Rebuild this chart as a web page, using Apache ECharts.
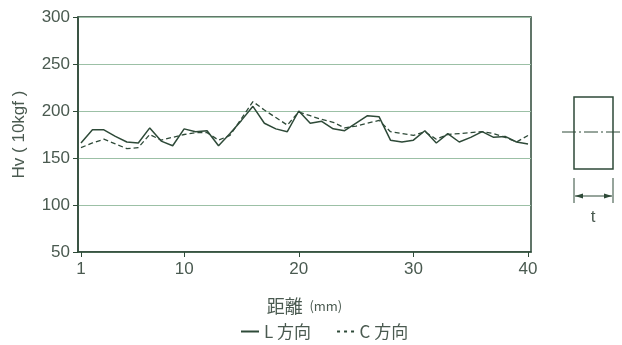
<!DOCTYPE html>
<html>
<head>
<meta charset="utf-8">
<script src="https://cdn.jsdelivr.net/npm/echarts@6/dist/echarts.min.js"></script>
<style>
	html, body { margin: 0; padding: 0; background: #fff; }
	#chart { width: 622px; height: 345px; }
</style>
</head>
<body>
<div id="chart"></div>
<script>
// 距離 (mm)
var distance = [1, 2, 3, 4, 5, 6, 7, 8, 9, 10, 11, 12, 13, 14, 15, 16, 17, 18, 19, 20,
	21, 22, 23, 24, 25, 26, 27, 28, 29, 30, 31, 32, 33, 34, 35, 36, 37, 38, 39, 40];
// L 方向
var hvL = [166, 180, 180, 173, 167, 166, 182, 168, 163, 181, 178, 179, 163, 176, 190, 205, 187, 181, 178, 200,
	187, 189, 181, 179, 187, 195, 194, 169, 167, 169, 179, 166, 176, 167, 172, 178, 172, 173, 167, 165];
// C 方向
var hvC = [161, 166, 170, 165, 160, 161, 175, 169, 172, 175, 177, 177, 169, 174, 192, 210, 201, 193, 185, 199,
	195, 191, 188, 182, 184, 187, 190, 178, 176, 174, 178, 170, 175, 176, 177, 178, 176, 172, 167, 174];
var xTicks = [1, 10, 20, 30, 40];
var seriesNames = ['L 方向', 'C 方向'];

var dark = '#2e4a38';
var grid = '#9cc0a6';
var text = '#4a5a50';

var chart = echarts.init(document.getElementById('chart'));

function pairs(ys) {
	var out = [];
	for (var i = 0; i < distance.length; i++) {
		out.push([distance[i], ys[i]]);
	}
	return out;
}

var option = {
	animation: false,
	textStyle: { fontFamily: 'Liberation Sans, Noto Sans CJK JP' },
	grid: {
		left: 78, right: 91, top: 17, bottom: 93,
		show: true, borderColor: dark, borderWidth: 1.5
	},
	legend: {
		left: 236, bottom: 0,
		itemWidth: 18, itemHeight: 2, itemGap: 26,
		data: [
			{ name: seriesNames[0], icon: 'path://M0,0L18,0L18,2L0,2Z' },
			{ name: seriesNames[1], icon: 'path://M0,0h3v2h-3zM7,0h3v2h-3zM14,0h3v2h-3z' }
		],
		textStyle: { color: text, fontSize: 17, fontFamily: 'Noto Sans CJK JP' }
	},
	xAxis: {
		type: 'value',
		min: 0.74, max: 40.26,
		name: '{a|距離}  {b|(mm)}',
		nameLocation: 'middle',
		nameGap: 45,
		nameTextStyle: {
			rich: {
				a: { fontSize: 18, color: text, fontFamily: 'Noto Sans CJK JP' },
				b: { fontSize: 13, color: text, fontFamily: 'Noto Sans CJK JP' }
			}
		},
		axisLine: { lineStyle: { color: dark, width: 1.5 } },
		axisTick: { show: true, length: 5, lineStyle: { color: dark }, customValues: xTicks },
		axisLabel: { color: text, fontSize: 17, margin: 9, customValues: xTicks },
		splitLine: { show: false }
	},
	yAxis: {
		type: 'value',
		min: 50, max: 300, interval: 50,
		name: 'Hv ( 10kgf )',
		nameLocation: 'middle',
		nameGap: 50,
		nameTextStyle: { color: text, fontSize: 17 },
		axisLine: { show: true, lineStyle: { color: dark, width: 1.5 } },
		axisTick: { show: true, length: 5, lineStyle: { color: dark } },
		axisLabel: { color: text, fontSize: 17, margin: 8 },
		splitLine: { show: true, lineStyle: { color: grid, width: 1 } }
	},
	series: [
		{
			name: seriesNames[0],
			type: 'line',
			symbol: 'none',
			data: pairs(hvL),
			lineStyle: { color: dark, width: 1.5, type: 'solid' },
			itemStyle: { color: dark }
		},
		{
			name: seriesNames[1],
			type: 'line',
			symbol: 'none',
			data: pairs(hvC),
			lineStyle: { color: dark, width: 1.3, type: [5, 3] },
			itemStyle: { color: dark }
		}
	],
	graphic: {
		elements: [
			// 断面図
			{ type: 'rect', shape: { x: 574, y: 97, width: 39, height: 72 },
				style: { fill: 'none', stroke: dark, lineWidth: 1.5 } },
			{ type: 'line', shape: { x1: 562, y1: 132, x2: 622, y2: 132 },
				style: { stroke: dark, lineWidth: 1, lineDash: [14, 3, 2, 3] } },
			{ type: 'line', shape: { x1: 574, y1: 178, x2: 574, y2: 203 },
				style: { stroke: dark, lineWidth: 1 } },
			{ type: 'line', shape: { x1: 613, y1: 178, x2: 613, y2: 203 },
				style: { stroke: dark, lineWidth: 1 } },
			{ type: 'line', shape: { x1: 575, y1: 196, x2: 612, y2: 196 },
				style: { stroke: dark, lineWidth: 1 } },
			{ type: 'polygon', shape: { points: [[575, 196], [583, 193.5], [583, 198.5]] },
				style: { fill: dark } },
			{ type: 'polygon', shape: { points: [[612, 196], [604, 193.5], [604, 198.5]] },
				style: { fill: dark } },
			{ type: 'text', x: 593, y: 217,
				style: { text: 't', fill: text, font: '17px Liberation Sans', align: 'center', verticalAlign: 'middle' } }
		]
	}
};
chart.setOption(option);
</script>
</body>
</html>
